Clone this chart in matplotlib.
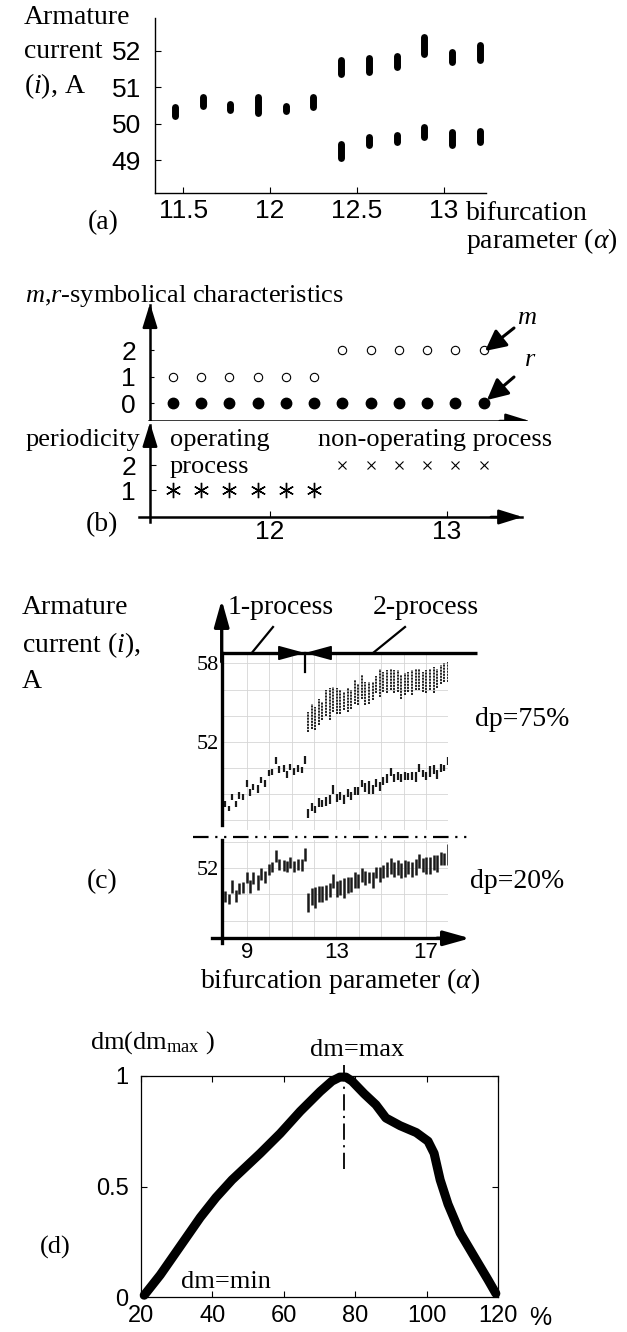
import matplotlib
matplotlib.use('Agg')
import matplotlib.pyplot as plt
from matplotlib.lines import Line2D

W, H = 627, 1332
SERIF = 'Liberation Serif'
SANS = 'Liberation Sans'
plt.rcParams['font.family'] = SERIF
plt.rcParams['mathtext.fontset'] = 'custom'
plt.rcParams['mathtext.rm'] = SERIF
plt.rcParams['mathtext.it'] = SERIF + ':italic'

# ---- data (a) / (b)
alpha_ab = [11.45, 11.61, 11.77, 11.93, 12.09, 12.25, 12.41, 12.57, 12.73, 12.89, 13.05, 13.21]
a_one_lo = [50.22, 50.48, 50.36, 50.28, 50.34, 50.46]
a_one_hi = [50.46, 50.72, 50.55, 50.72, 50.47, 50.72]
a_up_lo = [51.36, 51.42, 51.55, 51.90, 51.68, 51.76]
a_up_hi = [51.76, 51.80, 51.86, 52.38, 51.96, 52.16]
a_dn_lo = [49.05, 49.42, 49.50, 49.62, 49.42, 49.50]
a_dn_hi = [49.45, 49.62, 49.70, 49.90, 49.76, 49.80]

m_vals = [1, 1, 1, 1, 1, 1, 2, 2, 2, 2, 2, 2]
r_vals = [0, 0, 0, 0, 0, 0, 0, 0, 0, 0, 0, 0]
period = [1, 1, 1, 1, 1, 1, 2, 2, 2, 2, 2, 2]

# ---- data (c)
alpha_c1 = [8.02, 8.2, 8.36, 8.52, 8.67, 8.85, 9.0, 9.15, 9.3, 9.48, 9.64, 9.8,
            9.98, 10.14, 10.29, 10.44, 10.64, 10.79, 10.94, 11.12, 11.27, 11.45, 11.6]
alpha_c2 = [11.75, 11.9, 12.06, 12.22, 12.38, 12.54, 12.7, 12.86, 13.02, 13.18,
            13.34, 13.5, 13.66, 13.82, 13.98, 14.14, 14.3, 14.46, 14.62, 14.78,
            14.94, 15.1, 15.26, 15.42, 15.58, 15.74, 15.9, 16.06, 16.22, 16.38,
            16.54, 16.7, 16.86, 17.02, 17.18, 17.34, 17.5, 17.66, 17.82, 17.98]

# dp=75%
c75_one_lo = [47.02, 46.7, 47.54, 46.97, 47.6, 47.54, 48.52, 47.8, 48.26, 48.05, 48.83, 48.52,
              49.34, 49.42, 50.32, 49.6, 49.68, 49.24, 49.86, 49.47, 49.68, 49.6, 50.32]
c75_one_hi = [47.43, 47.1, 48.0, 47.43, 48.13, 48.0, 49.03, 48.39, 48.77, 48.65, 49.29, 49.03,
              49.81, 49.94, 50.84, 50.12, 50.19, 49.75, 50.32, 50.01, 50.19, 50.06, 50.9]
c75_hi_lo = [52.74, 53.0, 52.87, 53.26, 53.64, 54.0, 53.64, 54.3, 54.15, 54.15,
             54.4, 54.3, 54.5, 54.9, 54.8, 55.3, 54.8, 54.9, 55.2, 55.7,
             55.4, 55.8, 55.7, 55.95, 55.7, 55.8, 55.3, 55.56, 55.8, 55.56,
             55.95, 55.95, 55.8, 55.7, 55.95, 55.7, 56.1, 56.46, 56.6, 56.6]
c75_hi_hi = [54.28, 54.9, 54.67, 55.3, 55.05, 55.95, 56.08, 56.2, 56.08, 55.95,
             55.8, 56.08, 55.95, 56.7, 56.46, 57.1, 56.6, 56.6, 56.6, 57.0,
             57.6, 57.36, 57.5, 57.6, 57.5, 57.5, 57.1, 57.23, 57.36, 57.5,
             57.55, 57.6, 57.36, 57.5, 57.6, 57.74, 57.6, 57.87, 58.0, 58.1]
c75_lo_lo = [46.15, 46.7, 46.5, 47.0, 47.0, 47.1, 47.25, 48.0, 47.35, 47.5,
             47.25, 47.75, 47.5, 47.9, 47.9, 48.5, 48.15, 48.0, 48.0, 48.5,
             48.25, 48.65, 48.8, 49.4, 48.9, 49.05, 48.9, 49.05, 49.05, 49.05,
             48.9, 49.7, 49.3, 49.05, 49.3, 49.55, 49.15, 49.7, 49.75, 50.2]
c75_lo_hi = [46.85, 47.3, 47.1, 47.7, 47.55, 47.75, 47.9, 48.65, 48.0, 48.15,
             47.9, 48.4, 48.15, 48.5, 48.5, 49.1, 48.8, 49.0, 48.65, 49.15,
             48.9, 49.3, 49.55, 50.0, 49.55, 49.7, 49.55, 49.7, 49.6, 49.7,
             49.7, 50.3, 49.85, 49.7, 50.1, 50.2, 49.85, 50.3, 50.2, 50.85]

# dp=20%
c20_one_lo = [49.44, 49.3, 50.08, 49.44, 50.0, 50.08, 50.85, 50.08, 50.77, 50.33, 51.1, 50.85,
              51.5, 51.75, 52.5, 51.87, 51.8, 51.7, 52.05, 51.7, 51.87, 51.8, 52.56]
c20_one_hi = [50.26, 50.0, 51.1, 50.33, 50.85, 50.92, 51.7, 51.1, 51.7, 51.5, 52.0, 51.8,
              52.3, 52.5, 53.4, 52.7, 52.64, 52.56, 52.9, 52.56, 52.7, 52.7, 53.54]
c20_two_lo = [48.67, 49.18, 48.97, 49.44, 49.44, 49.56, 49.82, 50.46, 49.82, 49.95,
              49.7, 50.08, 50.2, 50.46, 50.5, 50.97, 50.72, 50.85, 50.46, 51.23,
              50.97, 51.23, 51.36, 51.6, 51.36, 51.5, 51.23, 51.36, 51.6, 51.36,
              51.5, 52.0, 51.74, 51.6, 51.6, 51.87, 51.74, 52.26, 52.26, 52.26]
c20_two_hi = [50.08, 50.5, 50.6, 50.67, 50.67, 50.72, 50.85, 51.6, 51.0, 51.1,
              51.23, 51.36, 51.36, 51.7, 51.54, 52.0, 51.8, 51.74, 51.74, 52.13,
              52.13, 52.26, 52.5, 52.82, 52.5, 52.64, 52.4, 52.64, 52.56, 52.5,
              52.7, 53.1, 52.77, 52.9, 52.9, 53.0, 53.0, 53.23, 53.15, 53.9]

# ---- data (d)
dp_pct = [20.9, 25.4, 31, 36.6, 41, 45.5, 53.4, 59, 64.6, 70.2, 73.5, 75.7, 77.4, 79.1,
          82.5, 85.8, 88.6, 92.6, 97.1, 100.4, 102.1, 103.8, 106, 109.4, 113.8, 117.2, 119.4]
dm_rel = [0.008, 0.10, 0.23, 0.36, 0.45, 0.53, 0.65, 0.74, 0.84, 0.93, 0.977, 0.995, 0.995, 0.977,
          0.92, 0.87, 0.81, 0.775, 0.744, 0.705, 0.65, 0.53, 0.42, 0.29, 0.17, 0.078, 0.016]
dm_peak = 77


def rect(x0, y0, x1, y1):
    return [x0 / W, 1 - y1 / H, (x1 - x0) / W, (y1 - y0) / H]


def fp(x, y):
    return (x / W, 1 - y / H)


fig = plt.figure(figsize=(W / 100, H / 100), dpi=100)


def label(x, y, s, size=20, ha='left', va='center', family=SERIF, **kw):
    fig.text(x / W, 1 - y / H, s, fontsize=size, ha=ha, va=va, family=family, **kw)


def arrow(ax, p0, p1, coords='data', lw=1.8, hl=0.9, hw=0.28, ms=16):
    ax.annotate('', xy=p1, xytext=p0, xycoords=coords, textcoords=coords,
                arrowprops=dict(arrowstyle=f'-|>,head_length={hl},head_width={hw}',
                                lw=lw, color='k', shrinkA=0, shrinkB=0, mutation_scale=ms),
                annotation_clip=False)


def figline(xs, ys, **kw):
    fig.add_artist(Line2D([x / W for x in xs], [1 - y / H for y in ys],
                          transform=fig.transFigure, color='k', **kw))


# ================= (a)
ax = fig.add_axes(rect(155, 18, 486, 193))
for x, lo, hi in zip(alpha_ab[:6], a_one_lo, a_one_hi):
    ax.plot([x, x], [lo, hi], color='k', lw=5, solid_capstyle='round')
for x, lo, hi in zip(alpha_ab[6:], a_up_lo, a_up_hi):
    ax.plot([x, x], [lo, hi], color='k', lw=5, solid_capstyle='round')
for x, lo, hi in zip(alpha_ab[6:], a_dn_lo, a_dn_hi):
    ax.plot([x, x], [lo, hi], color='k', lw=5, solid_capstyle='round')
ax.set_xlim(11.336, 13.245)
ax.set_ylim(48.094, 52.9)
for s in ['top', 'right']:
    ax.spines[s].set_visible(False)
for s in ['left', 'bottom']:
    ax.spines[s].set_linewidth(1.0)
ax.set_xticks([11.5, 12, 12.5, 13])
ax.set_xticklabels(['11.5', '12', '12.5', '13'])
ax.set_yticks([49, 50, 51, 52])
ax.tick_params(direction='in', length=4, width=0.8, labelsize=19)
ax.tick_params(axis='x', pad=4)
ax.tick_params(axis='y', pad=10)
for t in ax.get_xticklabels() + ax.get_yticklabels():
    t.set_family(SANS)

label(24, 17, 'Armature')
label(24, 52, 'current')
label(24, 86, r'($\mathit{i}$), A')
label(103, 223, '(a)', ha='center')
label(466, 213, 'bifurcation')
label(466, 241, r'parameter ($\alpha$)')

# ================= (b)
bx0, bx1 = 11.264, 13.472
yx = 11.3205

axu = fig.add_axes(rect(140, 300, 530, 425))
axu.set_xlim(bx0, bx1)
axu.set_ylim(-0.83, 3.887)
axu.plot(alpha_ab, m_vals, 'o', ms=6, mfc='white', mec='k', mew=0.8, ls='none')
axu.plot(alpha_ab, r_vals, 'o', ms=7.5, mfc='k', mec='k', ls='none')
for s in ['top', 'right']:
    axu.spines[s].set_visible(False)
axu.spines['left'].set_position(('data', yx))
axu.spines['left'].set_bounds(-0.68, 3.70)
axu.spines['bottom'].set_position(('data', -0.68))
axu.spines['bottom'].set_bounds(11.3126, 13.4496)
for s in ['left', 'bottom']:
    axu.spines[s].set_linewidth(1.8)
axu.set_xticks([])
axu.set_yticks([0, 1, 2])
axu.tick_params(axis='y', direction='in', length=3, width=0.8, labelsize=19, pad=10)
for t in axu.get_yticklabels():
    t.set_family(SANS)
arrow(axu, (yx, 3.3), (yx, 3.75))
arrow(axu, (13.3, -0.68), (13.47, -0.68))

axl = fig.add_axes(rect(140, 421, 530, 545))
axl.set_xlim(bx0, bx1)
axl.set_ylim(-1.2, 3.76)
for x, p in zip(alpha_ab, period):
    if p == 1:
        axl.plot(x, p, marker=(6, 2, 0), ms=11, mec='k', mew=1.0, ls='none')
    else:
        axl.plot(x, p, marker='x', ms=6, mec='k', mew=0.8, ls='none')
for s in ['top', 'right']:
    axl.spines[s].set_visible(False)
axl.spines['left'].set_position(('data', yx))
axl.spines['left'].set_bounds(-0.28, 3.62)
axl.spines['bottom'].set_position(('data', -0.08))
axl.spines['bottom'].set_bounds(11.256, 13.427)
for s in ['left', 'bottom']:
    axl.spines[s].set_linewidth(1.8)
axl.set_xticks([12, 13])
axl.set_yticks([1, 2])
axl.tick_params(direction='in', length=4, width=0.8, labelsize=19)
axl.tick_params(axis='y', pad=10)
axl.tick_params(axis='x', pad=2)
for t in axl.get_xticklabels() + axl.get_yticklabels():
    t.set_family(SANS)
arrow(axl, (yx, 3.2), (yx, 3.70))
arrow(axl, (13.25, -0.08), (13.43, -0.08))

label(25, 296, r'$\mathit{m}$,$\mathit{r}$-symbolical characteristics', size=19)
label(140, 440, 'periodicity', ha='right', size=19)
label(170, 440, 'operating', size=19)
label(170, 467, 'process', size=19)
label(318, 440, 'non-operating process', size=19)
label(102, 525, '(b)', ha='center')
label(527, 318, r'$\mathit{m}$', ha='center', size=19)
label(530, 360, r'$\mathit{r}$', ha='center', size=19)
arrow(axu, fp(514, 328), fp(485, 351), coords='figure fraction', lw=2.2, hl=0.9, hw=0.45, ms=14)
arrow(axu, fp(514, 377), fp(487, 400), coords='figure fraction', lw=2.2, hl=0.9, hw=0.45, ms=14)

# ================= (c)
cx0, cx1 = 7.88, 18.0
grid_kw = dict(color='#d6d6d6', lw=0.6)

axc = fig.add_axes(rect(221.7, 653, 448.3, 830))
axc.set_xlim(cx0, cx1)
axc.set_ylim(45.23, 58.8)
axc.vlines(alpha_c1, c75_one_lo, c75_one_hi, color='#1a1a1a', lw=1.6)
axc.vlines(alpha_c2, c75_lo_lo, c75_lo_hi, color='#1a1a1a', lw=1.6)
axc.vlines(alpha_c2, c75_hi_lo, c75_hi_hi, color='#111111', lw=1.3, linestyles=(0, (1.2, 0.5)))
axc.set_xticks(range(9, 19))
axc.set_xticklabels([])
axc.set_yticks(range(46, 59, 2))
axc.set_yticklabels(['' if v not in (52, 58) else str(v) for v in range(46, 59, 2)])
axc.grid(True, **grid_kw)
axc.set_axisbelow(True)
axc.tick_params(length=0, labelsize=16, pad=2)
for s in axc.spines.values():
    s.set_visible(False)
axc.plot([0, 0], [0.028, 1.0], transform=axc.transAxes, color='k', lw=2.4, clip_on=False)
arrow(axc, (0, 0.95), (0, 1.30), coords='axes fraction', lw=2.4, hl=1.0, hw=0.28, ms=16)
axc.plot([0, 1.125], [1, 1], transform=axc.transAxes, color='k', lw=2.4, clip_on=False,
         solid_capstyle='butt')
arrow(axc, (10.55, 58.8), (11.6, 58.8), lw=1.2, hl=1.1, hw=0.3, ms=15)
arrow(axc, (12.65, 58.8), (11.6, 58.8), lw=1.2, hl=1.1, hw=0.3, ms=15)
axc.plot([11.6, 11.6], [58.8, 57.34], color='k', lw=1.6, clip_on=False)

axd = fig.add_axes(rect(221.7, 840, 448.3, 938.3))
axd.set_xlim(cx0, cx1)
axd.set_ylim(46.64, 54.17)
axd.vlines(alpha_c1, c20_one_lo, c20_one_hi, color='#1a1a1a', lw=1.8)
axd.vlines(alpha_c2, c20_two_lo, c20_two_hi, color='#1a1a1a', lw=1.8)
axd.set_xticks(range(9, 19))
axd.set_xticklabels(['9' if v == 9 else '13' if v == 13 else '17' if v == 17 else ''
                     for v in range(9, 19)])
axd.set_yticks(range(48, 55, 2))
axd.set_yticklabels(['52' if v == 52 else '' for v in range(48, 55, 2)])
axd.grid(True, **grid_kw)
axd.set_axisbelow(True)
axd.tick_params(length=0, labelsize=16, pad=2)
axd.tick_params(axis='x', labelsize=16, pad=3)
for t in axd.get_xticklabels():
    t.set_family(SANS)
for s in axd.spines.values():
    s.set_visible(False)
axd.plot([0, 0], [-0.048, 1.0], transform=axd.transAxes, color='k', lw=2.4, clip_on=False)
axd.plot([-0.044, 1.0], [0, 0], transform=axd.transAxes, color='k', lw=2.4, clip_on=False)
arrow(axd, (0.95, 0), (1.096, 0), coords='axes fraction', lw=2.4, hl=1.0, hw=0.28, ms=16)

figline([193, 468], [837, 837], lw=1.6, ls=(0, (7, 3, 1, 3, 1, 3)))
figline([273, 251.7], [627, 653], lw=1.6)
figline([405, 373], [627, 653], lw=1.6)

label(228, 608, '1-process')
label(373, 608, '2-process')
label(22, 608, 'Armature')
label(22, 645, r'current ($\mathit{i}$),')
label(22, 681, 'A')
label(475, 720, 'dp=75%')
label(470, 882, 'dp=20%')
label(102, 882, '(c)', ha='center')
label(340, 981, r'bifurcation parameter ($\alpha$)', ha='center')

# ================= (d)
axm = fig.add_axes(rect(141, 1076, 498, 1297))
axm.plot(dp_pct, dm_rel, color='k', lw=6.5, solid_capstyle='round', solid_joinstyle='round',
         clip_on=False)
axm.plot([dm_peak, dm_peak], [1.05, 0.58], color='k', lw=1.3, ls=(0, (9, 3, 1.2, 3)),
         clip_on=False)
axm.set_xlim(20, 120)
axm.set_ylim(0, 1)
axm.set_xticks([20, 40, 60, 80, 100, 120])
axm.set_yticks([0, 0.5, 1])
axm.set_yticklabels(['0', '0.5', '1'])
axm.tick_params(direction='in', length=4, width=0.8, top=True, right=True, labelsize=17)
axm.tick_params(axis='x', pad=6)
axm.tick_params(axis='y', pad=9)
for s in axm.spines.values():
    s.set_linewidth(0.9)
for t in axm.get_xticklabels() + axm.get_yticklabels():
    t.set_family(SANS)

label(90, 1043, r'dm(dm$_{\mathrm{max}}$ )', size=19)
label(357, 1050, 'dm=max', ha='center', size=19)
label(181, 1282, 'dm=min', size=19)
label(55, 1247, '(d)', ha='center', size=19)
label(540, 1318, '%', ha='center', size=18, family=SANS)

fig.savefig('out.png', dpi=100)
